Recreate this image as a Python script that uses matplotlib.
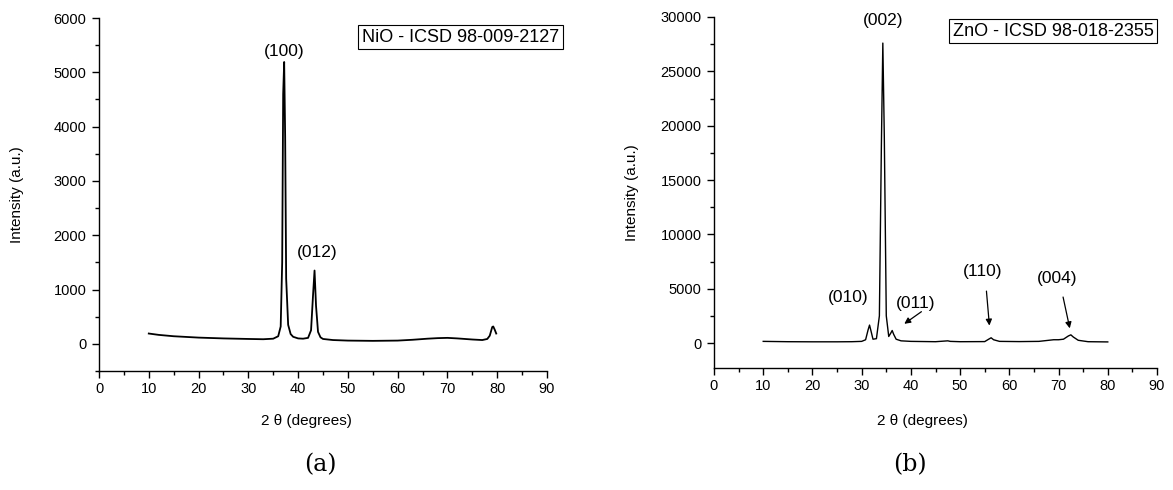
import matplotlib
matplotlib.use('Agg')
import matplotlib.pyplot as plt
from matplotlib.ticker import MultipleLocator

plt.rcParams['font.family'] = ['Liberation Sans', 'DejaVu Sans']

# NiO pattern (2 theta, intensity)
nio_theta = [10, 12, 15, 20, 25, 30, 33, 35, 36, 36.5, 36.8, 37.0, 37.2, 37.4,
             37.6, 38.0, 38.5, 39, 40, 41, 42, 42.6, 43.0, 43.3, 43.6, 44.0,
             44.5, 45, 47, 50, 55, 60, 63, 66, 68, 70, 72, 75, 77, 78, 78.5,
             79.0, 79.2, 79.5, 79.8]
nio_int = [190, 165, 140, 115, 100, 90, 85, 95, 140, 320, 1500, 4600, 5190,
           3800, 1200, 350, 180, 130, 100, 95, 110, 250, 900, 1350, 700, 220,
           120, 90, 70, 60, 55, 60, 75, 95, 105, 110, 100, 80, 70, 90, 150,
           310, 320, 260, 190]

# ZnO pattern
zno_theta = [10, 15, 20, 25, 28, 30, 30.8, 31.3, 31.6, 31.9, 32.3, 33.0, 33.6,
             34.0, 34.3, 34.6, 35.0, 35.5, 35.9, 36.2, 36.5, 37.0, 38, 40, 45,
             47.5, 48, 50, 55, 55.8, 56.3, 56.8, 58, 62, 66, 68, 69, 70, 71,
             72, 72.5, 73, 74, 76, 80]
zno_int = [150, 120, 110, 110, 120, 150, 300, 1200, 1650, 1100, 350, 400, 2500,
           18000, 27600, 19000, 2500, 600, 900, 1150, 800, 350, 200, 150, 120,
           200, 150, 120, 130, 350, 480, 300, 150, 130, 150, 250, 300, 300,
           350, 650, 750, 550, 250, 120, 100]

# peak labels: (text, x, y)
nio_labels = [('(100)', 37.2, 5390), ('(012)', 43.8, 1690)]
zno_labels = [('(010)', 27.2, 4230), ('(002)', 34.3, 29700)]
# arrowed labels: (text, text x, text y, arrow start, arrow end)
zno_arrows = [('(011)', 41.0, 3650, (42.6, 3030), (38.2, 1620)),
              ('(110)', 54.5, 6560, (55.3, 5030), (56.0, 1350)),
              ('(004)', 69.8, 5950, (70.8, 4480), (72.4, 1100))]

W, H = 1173, 490
fig = plt.figure(figsize=(W / 100, H / 100), dpi=100)

ax1 = fig.add_axes([99 / W, 1 - 371 / H, 448 / W, 353 / H])
ax2 = fig.add_axes([714 / W, 1 - 368 / H, 443 / W, 351 / H])


def style(ax, ymin, ymax, major, minor, lab_x, lab_y, ylab_x):
    ax.set_xlim(0, 90)
    ax.set_ylim(ymin, ymax)
    ax.xaxis.set_major_locator(MultipleLocator(10))
    ax.xaxis.set_minor_locator(MultipleLocator(5))
    ax.yaxis.set_major_locator(MultipleLocator(major))
    ax.yaxis.set_minor_locator(MultipleLocator(minor))
    for s in ['top', 'right']:
        ax.spines[s].set_visible(False)
    for s in ['left', 'bottom']:
        ax.spines[s].set_linewidth(1.0)
    ax.tick_params(which='major', direction='out', length=5, width=1.0,
                   labelsize=10.5)
    ax.tick_params(axis='x', which='major', pad=3)
    ax.tick_params(axis='y', which='major', pad=4)
    ax.tick_params(which='minor', direction='out', length=3, width=1.0)
    ax.set_xlabel('2 \u03b8 (degrees)', fontsize=11)
    ax.set_ylabel('Intensity (a.u.)', fontsize=11)
    ax.xaxis.set_label_coords(lab_x, lab_y)
    ax.yaxis.set_label_coords(ylab_x, 0.5)


ax1.plot(nio_theta, nio_int, color='black', lw=1.3)
style(ax1, -500, 6000, 1000, 500, 0.462, -0.122, -0.167)
for t, x, y in nio_labels:
    ax1.text(x, y, t, ha='center', va='center', fontsize=12.5)

ax2.plot(zno_theta, zno_int, color='black', lw=1.0)
style(ax2, -2300, 30000, 5000, 2500, 0.47, -0.131, -0.169)
for t, x, y in zno_labels:
    ax2.text(x, y, t, ha='center', va='center', fontsize=12.5)
for t, x, y, a0, a1 in zno_arrows:
    ax2.text(x, y, t, ha='center', va='center', fontsize=12.5)
    ax2.annotate('', xy=a1, xytext=a0,
                 arrowprops=dict(arrowstyle='-|>', color='black', lw=0.9,
                                 mutation_scale=9))

# reference boxes
box = dict(boxstyle='square,pad=0.2', fc='white', ec='black', lw=0.8)
fig.text(362 / W, 1 - 37 / H, 'NiO - ICSD 98-009-2127', fontsize=13,
         ha='left', va='center', bbox=box)
fig.text(953 / W, 1 - 31 / H, 'ZnO - ICSD 98-018-2355', fontsize=13,
         ha='left', va='center', bbox=box)

# panel letters
fig.text(320 / W, 1 - 465 / H, '(a)', fontsize=17, family='DejaVu Serif',
         ha='center', va='center')
fig.text(910 / W, 1 - 465 / H, '(b)', fontsize=17, family='DejaVu Serif',
         ha='center', va='center')

fig.savefig('out.png', dpi=100)
